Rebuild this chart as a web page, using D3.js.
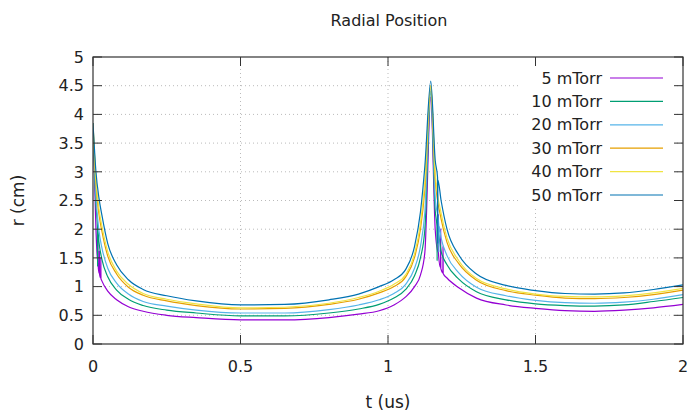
<!DOCTYPE html>
<html>
<head>
<meta charset="utf-8">
<script src="https://cdn.jsdelivr.net/npm/d3@7"></script>
<style>
  body { margin: 0; background: #fff; }
  svg text { font-family: "DejaVu Sans", sans-serif; fill: #222; }
</style>
</head>
<body>
<svg id="chart" width="692" height="413"></svg>
<script>
// time grid (us) shared by all series
var times = [0, 0.01, 0.02, 0.03, 0.05, 0.08, 0.12, 0.17, 0.25, 0.35, 0.5, 0.65, 0.8, 0.9, 0.97,
  1.02, 1.06, 1.09, 1.11, 1.125, 1.145, 1.16, 1.18, 1.2, 1.24, 1.3, 1.4, 1.5, 1.6, 1.7, 1.8, 1.9, 2.0];

var labels = ["5 mTorr", "10 mTorr", "20 mTorr", "30 mTorr", "40 mTorr", "50 mTorr"];

var r5 = [3.85, 2.0, 1.25, 1.1, 0.92, 0.77, 0.65, 0.57, 0.5, 0.46, 0.42, 0.42, 0.46, 0.52, 0.58,
  0.68, 0.82, 1.0, 1.2, 1.6, 4.3, 2.0, 1.3, 1.15, 0.98, 0.8, 0.68, 0.62, 0.58, 0.57, 0.59, 0.63, 0.69];
var r10 = [3.85, 2.42, 1.78, 1.48, 1.17, 0.94, 0.78, 0.67, 0.59, 0.54, 0.49, 0.49, 0.54, 0.61, 0.69,
  0.8, 0.95, 1.19, 1.5, 2.0, 4.4, 2.32, 1.62, 1.38, 1.13, 0.91, 0.77, 0.7, 0.67, 0.66, 0.68, 0.74, 0.81];
var r20 = [3.85, 2.57, 1.98, 1.68, 1.32, 1.06, 0.87, 0.74, 0.66, 0.59, 0.54, 0.54, 0.6, 0.68, 0.77,
  0.88, 1.04, 1.32, 1.7, 2.3, 4.45, 2.55, 1.85, 1.54, 1.24, 0.99, 0.84, 0.76, 0.72, 0.71, 0.73, 0.78, 0.86];
var r30 = [3.85, 2.78, 2.27, 1.97, 1.53, 1.22, 0.99, 0.85, 0.75, 0.67, 0.61, 0.62, 0.69, 0.78, 0.89,
  1.0, 1.17, 1.51, 2.0, 2.7, 4.5, 2.88, 2.18, 1.77, 1.4, 1.11, 0.93, 0.85, 0.8, 0.79, 0.81, 0.86, 0.94];
var r40 = [3.85, 2.86, 2.36, 2.06, 1.61, 1.27, 1.04, 0.88, 0.78, 0.7, 0.63, 0.64, 0.71, 0.81, 0.92,
  1.04, 1.21, 1.57, 2.1, 2.83, 4.5, 2.98, 2.28, 1.85, 1.45, 1.14, 0.96, 0.87, 0.83, 0.82, 0.84, 0.89, 0.97];
var r50 = [3.85, 3.0, 2.55, 2.25, 1.75, 1.38, 1.12, 0.95, 0.84, 0.75, 0.68, 0.69, 0.77, 0.87, 1.0,
  1.12, 1.3, 1.7, 2.3, 3.1, 4.58, 3.2, 2.5, 2.0, 1.55, 1.22, 1.02, 0.93, 0.88, 0.87, 0.89, 0.95, 1.03];

// oscillation spikes [t, r]
var burst5 = [[0.016, 1.42], [0.0165, 1.9], [0.017, 1.4], [0.021, 1.23], [0.0215, 1.62], [0.022, 1.22],
  [0.026, 1.15], [0.0265, 1.5], [0.027, 1.14],
  [1.17, 1.6], [1.1705, 2.25], [1.171, 1.57], [1.178, 1.33], [1.1785, 2.0], [1.179, 1.32],
  [1.186, 1.24], [1.1865, 1.7], [1.187, 1.23]];
var burst10 = [[0.015, 2.05], [0.0155, 1.35], [0.016, 2.0], [1.166, 2.05], [1.1665, 1.45], [1.167, 2.02]];
var burst20 = [[1.172, 2.08], [1.1725, 1.6], [1.173, 2.06]];
var burst50 = [[1.168, 2.9], [1.1685, 1.75], [1.169, 2.86]];

var colors = ["#9400d3", "#009e73", "#56b4e9", "#e69f00", "#f0e442", "#0072b2"];

var xTicks = [0, 0.5, 1, 1.5, 2];
var yTicks = [0, 0.5, 1, 1.5, 2, 2.5, 3, 3.5, 4, 4.5, 5];

var margin = {top: 57, right: 9, bottom: 69, left: 93};
var width = 692 - margin.left - margin.right;
var height = 413 - margin.top - margin.bottom;

var svg = d3.select("#chart");
var g = svg.append("g").attr("transform", "translate(" + margin.left + "," + margin.top + ")");

var x = d3.scaleLinear().domain([0, 2]).range([0, width]);
var y = d3.scaleLinear().domain([0, 5]).range([height, 0]);

// dotted grid
g.selectAll(".gx").data(xTicks.slice(1, -1)).enter().append("line")
  .attr("x1", function(d) { return x(d); }).attr("x2", function(d) { return x(d); })
  .attr("y1", 0).attr("y2", height)
  .attr("stroke", "#bbb").attr("stroke-width", 1).attr("stroke-dasharray", "1,3");
g.selectAll(".gy").data(yTicks.slice(1, -1)).enter().append("line")
  .attr("x1", 0).attr("x2", width)
  .attr("y1", function(d) { return y(d); }).attr("y2", function(d) { return y(d); })
  .attr("stroke", "#bbb").attr("stroke-width", 1).attr("stroke-dasharray", "1,3");

function buildSeries(vals, extra) {
  var pts = times.map(function(t, i) { return [t, vals[i]]; });
  if (extra) pts = pts.concat(extra);
  pts.sort(function(a, b) { return a[0] - b[0]; });
  return pts;
}

var series = [
  buildSeries(r5, burst5),
  buildSeries(r10, burst10),
  buildSeries(r20, burst20),
  buildSeries(r30, null),
  buildSeries(r40, null),
  buildSeries(r50, burst50)
];

var line = d3.line()
  .x(function(d) { return x(d[0]); })
  .y(function(d) { return y(d[1]); })
  .curve(d3.curveMonotoneX);

g.append("defs").append("clipPath").attr("id", "clip")
  .append("rect").attr("width", width).attr("height", height);

g.append("g").attr("clip-path", "url(#clip)")
  .selectAll("path").data(series).enter().append("path")
  .attr("d", line)
  .attr("fill", "none")
  .attr("stroke", function(d, i) { return colors[i]; })
  .attr("stroke-width", 1.2);

// legend (opaque, no frame)
var legend = g.append("g");
legend.append("rect")
  .attr("x", 427).attr("y", 9).attr("width", 155).attr("height", 142)
  .attr("fill", "#fff");
labels.forEach(function(lab, i) {
  var ly = 21 + i * 23.4;
  legend.append("text")
    .attr("x", 509).attr("y", ly).attr("dy", "0.35em")
    .attr("text-anchor", "end").attr("font-size", 16)
    .text(lab);
  legend.append("line")
    .attr("x1", 517).attr("x2", 570).attr("y1", ly).attr("y2", ly)
    .attr("stroke", colors[i]).attr("stroke-width", 1.2);
});

// ticks on all four sides, pointing inward
var tickLen = 9;
xTicks.forEach(function(d) {
  g.append("line").attr("x1", x(d)).attr("x2", x(d)).attr("y1", height).attr("y2", height - tickLen)
    .attr("stroke", "#333");
  g.append("line").attr("x1", x(d)).attr("x2", x(d)).attr("y1", 0).attr("y2", tickLen)
    .attr("stroke", "#333");
  g.append("text").attr("x", x(d)).attr("y", height + 28)
    .attr("text-anchor", "middle").attr("font-size", 16).text(d);
});
yTicks.forEach(function(d) {
  g.append("line").attr("x1", 0).attr("x2", tickLen).attr("y1", y(d)).attr("y2", y(d))
    .attr("stroke", "#333");
  g.append("line").attr("x1", width).attr("x2", width - tickLen).attr("y1", y(d)).attr("y2", y(d))
    .attr("stroke", "#333");
  g.append("text").attr("x", -9).attr("y", y(d)).attr("dy", "0.36em")
    .attr("text-anchor", "end").attr("font-size", 16).text(d);
});

g.append("rect").attr("width", width).attr("height", height)
  .attr("fill", "none").attr("stroke", "#333").attr("stroke-width", 1.2);

// titles
svg.append("text").attr("x", 389).attr("y", 26)
  .attr("text-anchor", "middle").attr("font-size", 16).text("Radial Position");
svg.append("text").attr("x", margin.left + width / 2).attr("y", 408)
  .attr("text-anchor", "middle").attr("font-size", 17).text("t (us)");
svg.append("text")
  .attr("transform", "translate(24," + (margin.top + height / 2) + ") rotate(-90)")
  .attr("text-anchor", "middle").attr("font-size", 17).text("r (cm)");
</script>
</body>
</html>
